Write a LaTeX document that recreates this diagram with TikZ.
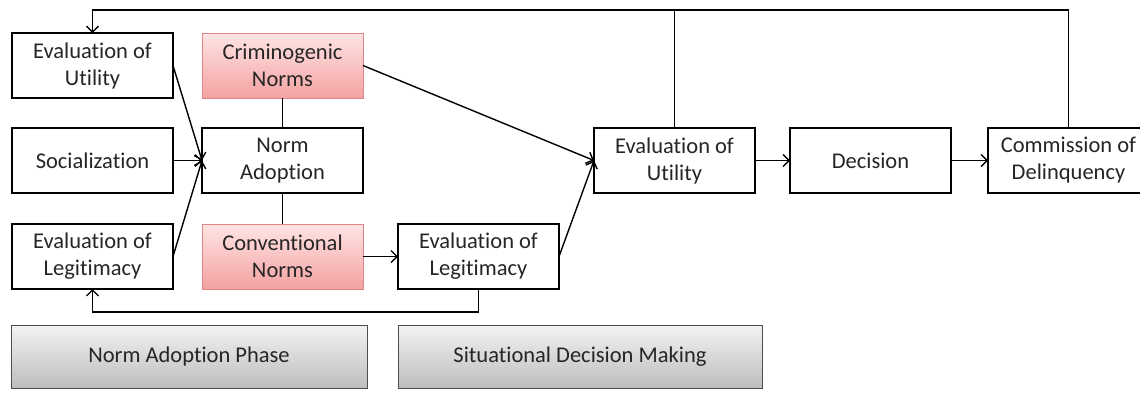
\documentclass[tikz,border=0pt]{standalone}
\usepackage{fontspec}
\setmainfont{Carlito}[Ligatures=NoCommon]
\usetikzlibrary{arrows.meta,positioning,calc}
\definecolor{normtop}{HTML}{FFE4E4}
\definecolor{normbot}{HTML}{F4A2A2}
\definecolor{normframe}{HTML}{DE8585}
\definecolor{phasetop}{HTML}{F3F3F3}
\definecolor{phasebot}{HTML}{BDBDBD}
\definecolor{phaseframe}{HTML}{4D4D4D}
\definecolor{txt}{HTML}{262626}

\begin{document}
\begin{tikzpicture}[x=1pt,y=-1pt,
  >={Straight Barb[length=6pt,width=12pt]},
  box/.style={draw=black,line width=2pt,fill=white,minimum width=161pt,
              minimum height=65pt,inner sep=2pt,outer sep=0pt,align=center,
              font={\fontsize{22.5}{27}\selectfont},text=txt},
  nm/.style={box,draw=normframe,line width=0.9pt,top color=normtop,bottom color=normbot},
  ph/.style={box,draw=phaseframe,line width=0.9pt,top color=phasetop,
             bottom color=phasebot,minimum height=63pt},
  a/.style={black,line width=1.4pt,->},
  l/.style={black,line width=1.4pt},
  node distance=30pt and 29pt]
\useasboundingbox (0,0) rectangle (1140,392);
% norm adoption phase
\node[box] (util1) at (92.5,65.5) {Evaluation of\\Utility};
\node[nm,right=of util1] (crim) {Criminogenic\\Norms};
\node[box,below=of util1] (soc) {Socialization};
\node[box,below=of crim] (adopt) {Norm\\Adoption};
\node[box,below=31pt of soc] (leg1) {Evaluation of\\Legitimacy};
\node[nm,below=31pt of adopt] (conv) {Conventional\\Norms};
% situational decision making
\node[box,right=35pt of conv] (leg2) {Evaluation of\\Legitimacy};
\coordinate (mid) at (leg2.east |- adopt.east);
\node[box,right=35pt of mid] (util2) {Evaluation of\\Utility};
\node[box,right=35pt of util2] (dec) {Decision};
\node[box,right=37pt of dec] (commit) {Commission of\\Delinquency};
\node[ph,minimum width=356pt,anchor=north west] (ph1) at ([xshift=-1pt,yshift=-36pt]leg1.south west) {Norm Adoption Phase};
\node[ph,minimum width=364pt,anchor=north west] (ph2) at ([yshift=-36pt]leg2.south west) {Situational Decision Making};
\draw[a] (util1.east) -- (adopt.west);
\draw[a] (soc) -- (adopt);
\draw[a] (leg1.east) -- (adopt.west);
\draw[l] (crim) -- (adopt);
\draw[l] (adopt) -- (conv);
\draw[a] (crim.east) -- (util2.west);
\draw[a] (conv) -- (leg2);
\draw[a] (leg2.east) -- (util2.west);
\draw[a] (util2) -- (dec);
\draw[a] (dec) -- (commit);
% feedback loops
\coordinate (top) at ([yshift=23pt]util1.north);
\draw[a] (commit.north) |- (top) -- (util1.north);
\draw[l] (util2.north) -- (util2.north |- top);
\draw[a] (leg2.south) |- ([yshift=-23pt]leg1.south) -- (leg1.south);
\end{tikzpicture}
\end{document}
